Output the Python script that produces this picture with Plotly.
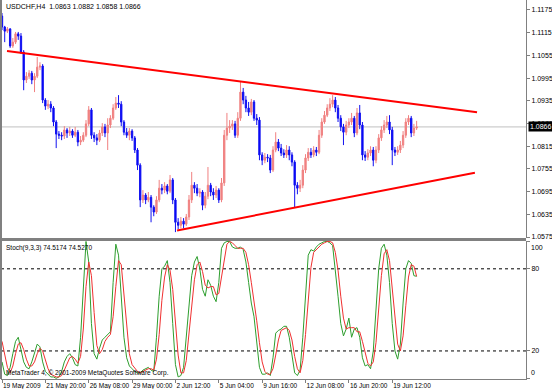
import plotly.graph_objects as go

# ---------------- data (prices in pips, i.e. 1/10000) ----------------
symbol_info = "USDCHF,H4  1.0863 1.0882 1.0858 1.0866"
stoch_info = "Stoch(9,3,3) 74.5174 74.5270"
copyright_text = "MetaTrader 4, © 2001-2009 MetaQuotes Software Corp."

first_open_pips = 11159
close_pips = [
    11130, 11119, 11125, 11080, 11090, 11112, 11106, 11064, 10990, 11000,
    11008, 10990, 11000, 11024, 11027, 10937, 10921, 10926, 10916, 10879,
    10847, 10844, 10842, 10858, 10850, 10855, 10844, 10852, 10826, 10831,
    10844, 10874, 10911, 10844, 10837, 10831, 10850, 10866, 10850, 10871,
    10889, 10916, 10929, 10926, 10879, 10852, 10844, 10855, 10837, 10805,
    10765, 10673, 10686, 10673, 10680, 10654, 10641, 10673, 10704, 10699,
    10710, 10696, 10726, 10673, 10614, 10606, 10617, 10609, 10628, 10673,
    10712, 10704, 10691, 10694, 10659, 10683, 10712, 10694, 10686, 10699,
    10673, 10718, 10844, 10863, 10868, 10874, 10844, 10889, 10958, 10937,
    10916, 10905, 10932, 10889, 10884, 10792, 10778, 10786, 10784, 10752,
    10805, 10826, 10810, 10797, 10792, 10805, 10792, 10773, 10712, 10704,
    10712, 10752, 10784, 10799, 10792, 10805, 10799, 10844, 10879, 10897,
    10916, 10926, 10937, 10916, 10889, 10866, 10852, 10871, 10879, 10889,
    10850, 10903, 10871, 10792, 10786, 10797, 10805, 10778, 10805, 10837,
    10858, 10871, 10879, 10858, 10805, 10799, 10805, 10818, 10844, 10879,
    10889, 10850, 10863, 10866,
]
high_pips = [
    11167, 11133, 11130, 11127, 11101, 11117, 11117, 11114, 11069, 11011,
    11016, 11014, 11008, 11051, 11037, 11032, 10942, 10937, 10934, 10921,
    10884, 10855, 10852, 10868, 10863, 10866, 10860, 10866, 10858, 10842,
    10852, 10884, 10921, 10916, 10852, 10847, 10858, 10876, 10874, 10889,
    10897, 10926, 10945, 10950, 10934, 10884, 10863, 10863, 10860, 10842,
    10810, 10770, 10699, 10691, 10694, 10686, 10659, 10683, 10726, 10715,
    10720, 10715, 10739, 10731, 10678, 10625, 10628, 10625, 10636, 10686,
    10747, 10720, 10715, 10704, 10699, 10694, 10760, 10718, 10704, 10710,
    10704, 10731, 10858, 10903, 10884, 10884, 10882, 10905, 10985, 10969,
    10948, 10932, 10940, 10937, 10900, 10892, 10799, 10797, 10794, 10792,
    10815, 10852, 10834, 10821, 10807, 10818, 10815, 10799, 10778, 10720,
    10726, 10765, 10794, 10810, 10810, 10815, 10813, 10858, 10889, 10908,
    10926, 10942, 10950, 10945, 10924, 10897, 10874, 10882, 10889, 10903,
    10895, 10916, 10924, 10879, 10802, 10807, 10815, 10813, 10815, 10847,
    10868, 10884, 10895, 10897, 10866, 10813, 10815, 10829, 10855, 10889,
    10897, 10895, 10874, 10882,
]
low_pips = [
    11122, 11090, 11114, 11075, 11075, 11085, 11096, 11059, 10963, 10982,
    10993, 10979, 10958, 10995, 11016, 10929, 10911, 10913, 10905, 10868,
    10810, 10834, 10831, 10834, 10837, 10842, 10837, 10839, 10815, 10818,
    10826, 10839, 10868, 10834, 10826, 10818, 10826, 10842, 10839, 10805,
    10863, 10884, 10911, 10916, 10868, 10844, 10837, 10831, 10829, 10797,
    10752, 10654, 10665, 10662, 10667, 10614, 10630, 10636, 10667, 10688,
    10691, 10688, 10691, 10662, 10588, 10596, 10598, 10598, 10604, 10620,
    10665, 10691, 10683, 10680, 10646, 10651, 10675, 10683, 10673, 10678,
    10665, 10667, 10710, 10831, 10850, 10858, 10837, 10837, 10882, 10926,
    10905, 10895, 10897, 10882, 10871, 10778, 10765, 10770, 10773, 10744,
    10747, 10799, 10802, 10789, 10784, 10784, 10778, 10762, 10654, 10688,
    10694, 10704, 10744, 10776, 10784, 10786, 10789, 10794, 10837, 10874,
    10892, 10908, 10918, 10905, 10879, 10855, 10818, 10844, 10863, 10871,
    10839, 10844, 10860, 10778, 10776, 10778, 10789, 10762, 10770, 10797,
    10829, 10850, 10863, 10847, 10765, 10789, 10792, 10797, 10810, 10837,
    10871, 10839, 10842, 10858,
]

stoch_main = [
    12, 3, 2, 8, 18, 27, 30, 22, 12, 8,
    7, 12, 18, 25, 23, 12, 5, 3, 1, 1,
    0, 1, 5, 12, 16, 18, 15, 10, 9, 30,
    70, 100, 85, 40, 18, 14, 22, 28, 30, 32,
    34, 70, 98, 90, 60, 30, 15, 9, 7, 5,
    4, 4, 6, 7, 8, 6, 5, 30, 60, 80,
    82, 86, 70, 40, 10, 1, 2, 8, 30, 55,
    75, 85, 89, 80, 65, 60, 72, 68, 60, 56,
    70, 95, 99, 100, 100, 96, 95, 95, 96, 94,
    85, 70, 55, 45, 25, 8, 3, 3, 4, 2,
    15, 33, 35, 36, 38, 38, 30, 15, 4, 2,
    6, 30, 60, 90, 94, 93, 96, 98, 99, 100,
    100, 99, 97, 80, 60, 40, 31, 36, 44, 30,
    36, 37, 30, 15, 9, 10, 7, 20, 50, 80,
    95, 98, 90, 70, 40, 20, 14, 25, 55, 80,
    86, 84, 75, 74.5174,
]
stoch_signal = [
    27, 18, 8, 4, 9, 18, 25, 26, 21, 14,
    9, 9, 12, 18, 22, 20, 13, 7, 3, 2,
    1, 1, 2, 6, 11, 15, 16, 14, 11, 16,
    36, 67, 85, 75, 48, 24, 18, 21, 27, 30,
    32, 45, 67, 86, 83, 60, 35, 18, 10, 7,
    5, 4, 5, 6, 7, 7, 6, 14, 32, 57,
    74, 83, 79, 65, 40, 17, 4, 4, 13, 31,
    53, 72, 83, 85, 78, 68, 66, 67, 67, 61,
    62, 74, 88, 98, 100, 99, 97, 95, 95, 95,
    92, 83, 70, 57, 42, 26, 12, 5, 3, 3,
    7, 17, 28, 35, 36, 37, 35, 28, 16, 7,
    4, 13, 32, 60, 81, 92, 94, 96, 98, 99,
    100, 100, 99, 92, 79, 60, 44, 36, 37, 37,
    37, 34, 34, 27, 18, 11, 9, 12, 26, 50,
    75, 91, 94, 86, 67, 43, 25, 20, 31, 53,
    74, 83, 82, 74.5270,
]

time_tick_bars = [0, 16, 32, 48, 64, 80, 96, 112, 128, 144]
time_tick_labels = ["19 May 2009", "21 May 20:00", "26 May 08:00", "29 May 00:00",
                    "2 Jun 12:00", "5 Jun 04:00", "9 Jun 16:00", "12 Jun 08:00",
                    "16 Jun 20:00", "19 Jun 12:00"]
price_ticks = [1.1175, 1.1115, 1.1055, 1.0995, 1.0935, 1.0875, 1.0815, 1.0755, 1.0695, 1.0635, 1.0575]
stoch_ticks = [0, 20, 80, 100]
stoch_levels = [20, 80]
current_price = 1.0866

upper_trend_x = [1.85, 175.3]
upper_trend_y = [1.10666, 1.09046]
lower_trend_x = [64.6, 174.5]
lower_trend_y = [1.05922, 1.07450]

# ---------------- build ----------------
n = len(close_pips)
bars = list(range(n))
close = [c / 10000 for c in close_pips]
high = [h / 10000 for h in high_pips]
low = [l / 10000 for l in low_pips]
opens = [first_open_pips / 10000] + close[:-1]

FONT = "Liberation Sans"
GRID = "#808080"
FS = 7
FS_S = 6.5

fig = go.Figure()
fig.add_trace(go.Candlestick(
    x=bars, open=opens, high=high, low=low, close=close,
    increasing=dict(line=dict(color="#F08080", width=1), fillcolor="#F08080"),
    decreasing=dict(line=dict(color="#1010F0", width=1), fillcolor="#0000FF"),
    whiskerwidth=0, hoverinfo="skip", xaxis="x", yaxis="y", showlegend=False,
))
fig.add_trace(go.Scatter(x=upper_trend_x, y=upper_trend_y, mode="lines",
                         line=dict(color="#FF0000", width=2), xaxis="x", yaxis="y",
                         hoverinfo="skip", showlegend=False))
fig.add_trace(go.Scatter(x=lower_trend_x, y=lower_trend_y, mode="lines",
                         line=dict(color="#FF0000", width=2), xaxis="x", yaxis="y",
                         hoverinfo="skip", showlegend=False))
fig.add_trace(go.Scatter(x=bars, y=stoch_main, mode="lines",
                         line=dict(color="#2E9E2E", width=1), xaxis="x2", yaxis="y2",
                         hoverinfo="skip", showlegend=False))
fig.add_trace(go.Scatter(x=bars, y=stoch_signal, mode="lines",
                         line=dict(color="#F03030", width=1), xaxis="x2", yaxis="y2",
                         hoverinfo="skip", showlegend=False))

xr = [-0.37, 193.36]
top_dom = [0.372, 1.0]
bot_dom = [0.0, 0.364]

fig.update_layout(
    width=552, height=389,
    margin=dict(l=1, r=26, t=0, b=10),
    paper_bgcolor="white", plot_bgcolor="white",
    font=dict(family=FONT, size=FS, color="#000000"),
    showlegend=False,
    xaxis=dict(domain=[0, 1], range=xr, anchor="y", showgrid=False, zeroline=False,
               showticklabels=False, ticks="", rangeslider=dict(visible=False), fixedrange=True),
    yaxis=dict(domain=top_dom, range=[1.05724, 1.12014], side="right", showgrid=False,
               zeroline=False, tickvals=price_ticks, ticktext=[f"{v:.4f}" for v in price_ticks],
               ticks="outside", ticklen=3, tickcolor=GRID, tickfont=dict(size=FS, color="#000000"),
               showline=True, linecolor=GRID, linewidth=1, fixedrange=True),
    xaxis2=dict(domain=[0, 1], range=xr, anchor="y2", showgrid=False, zeroline=False,
                tickvals=time_tick_bars, ticktext=time_tick_labels, ticks="outside", ticklen=3,
                tickangle=0, tickcolor=GRID, ticklabelposition="outside right",
                tickfont=dict(size=FS_S, color="#000000"), showline=True, linecolor=GRID,
                linewidth=1, fixedrange=True),
    yaxis2=dict(domain=bot_dom, range=[-0.5, 100.3], side="right", showgrid=False, zeroline=False,
                tickvals=stoch_ticks, ticktext=["" if v in (0, 100) else str(v) for v in stoch_ticks],
                ticks="outside", ticklen=3, tickcolor=GRID, tickfont=dict(size=FS, color="#000000"),
                showline=True, linecolor=GRID, linewidth=1, fixedrange=True),
)

shapes = []
shapes.append(dict(type="line", xref="paper", x0=0, x1=1, yref="y", y0=current_price, y1=current_price,
                   line=dict(color="#C0C0C0", width=1), layer="below"))
for lv in stoch_levels:
    shapes.append(dict(type="line", xref="paper", x0=0, x1=1, yref="y2", y0=lv, y1=lv,
                       line=dict(color="#000000", width=1, dash="3px,3px"), layer="below"))
shapes.append(dict(type="rect", xref="paper", yref="paper", x0=0, x1=1, y0=bot_dom[1], y1=top_dom[0],
                   fillcolor=GRID, line=dict(width=0)))
shapes.append(dict(type="line", xref="paper", yref="paper", x0=0, x1=0, y0=0, y1=1,
                   line=dict(color=GRID, width=2)))
fig.update_layout(shapes=shapes)

annotations = [
    dict(text=symbol_info, xref="paper", yref="paper", x=0, y=1, xanchor="left", yanchor="top",
         xshift=3, yshift=-1, showarrow=False, font=dict(size=FS, color="#000000")),
    dict(text=stoch_info, xref="paper", yref="paper", x=0, y=bot_dom[1], xanchor="left", yanchor="top",
         xshift=3, yshift=-1, showarrow=False, font=dict(size=FS_S, color="#000000")),
    dict(text=copyright_text, xref="paper", yref="paper", x=0, y=0, xanchor="left", yanchor="bottom",
         xshift=3, yshift=0, showarrow=False, font=dict(size=FS_S, color="#000000")),
    dict(text="100", xref="paper", yref="paper", x=1, y=bot_dom[1], xanchor="left", yanchor="top",
         xshift=3, yshift=-1, showarrow=False, font=dict(size=FS, color="#000000")),
    dict(text="0", xref="paper", yref="paper", x=1, y=0, xanchor="left", yanchor="bottom",
         xshift=3, yshift=1, showarrow=False, font=dict(size=FS, color="#000000")),
    dict(text=f"{current_price:.4f}", xref="paper", yref="y", x=1, y=current_price, xanchor="left",
         yanchor="middle", xshift=2, showarrow=False, bgcolor="#000000", borderpad=1,
         font=dict(size=FS, color="#FFFFFF")),
]
fig.update_layout(annotations=annotations)

fig.write_html("out.html", config={"displayModeBar": False, "staticPlot": True})
